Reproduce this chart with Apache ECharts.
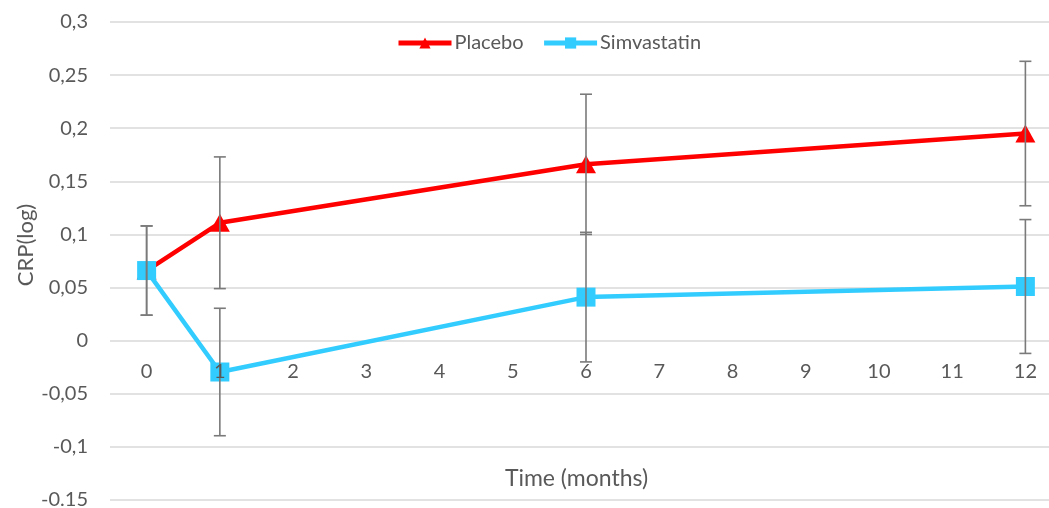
<!DOCTYPE html>
<html>
<head>
<meta charset="utf-8">
<script src="https://cdn.jsdelivr.net/npm/echarts@6/dist/echarts.min.js"></script>
<style>
  html, body { margin: 0; padding: 0; background: #ffffff; }
  #chart { width: 1049px; height: 508px; }
</style>
</head>
<body>
<div id="chart"></div>
<script>
// Time axis categories (months)
const monthLabels = ['0', '1', '2', '3', '4', '5', '6', '7', '8', '9', '10', '11', '12'];
// Measurement months
const months = [0, 1, 6, 12];
// Mean CRP (log) and error half-widths per group
const placeboMean = [0.066, 0.111, 0.166, 0.195];
const placeboErr = [0.042, 0.062, 0.066, 0.068];
const simvaMean = [0.066, -0.0295, 0.041, 0.051];
const simvaErr = [0.042, 0.060, 0.061, 0.063];
// Y tick labels, bottom to top
const yTickLabels = ['-0.15', '-0,1', '-0,05', '0', '0,05', '0,1', '0,15', '0,2', '0,25', '0,3'];

const FONT = 'Lato';
const TEXT = '#595959';
const GRID_LINE = '#d9d9d9';

// Plot box
const PLOT_TOP = 22;
const PLOT_HEIGHT = 478;
const Y_MIN = -0.15;
const Y_MAX = 0.3;
// Distance of the y = 0 line above the plot bottom, so the month axis sits on zero
const ZERO_OFFSET = PLOT_HEIGHT * (0 - Y_MIN) / (Y_MAX - Y_MIN);

function points(mean) {
  return months.map((m, i) => [m, mean[i]]);
}
function bars(mean, err) {
  return months.map((m, i) => [m, mean[i] - err[i], mean[i] + err[i]]);
}

function errorBarItem(params, api) {
  const x = api.value(0);
  const lo = api.coord([x, api.value(1)]);
  const hi = api.coord([x, api.value(2)]);
  const cap = 6;
  const style = { stroke: '#7a7a7a', lineWidth: 1.6, fill: null };
  return {
    type: 'group',
    children: [
      { type: 'line', shape: { x1: lo[0], y1: lo[1], x2: hi[0], y2: hi[1] }, style },
      { type: 'line', shape: { x1: lo[0] - cap, y1: lo[1], x2: lo[0] + cap, y2: lo[1] }, style },
      { type: 'line', shape: { x1: hi[0] - cap, y1: hi[1], x2: hi[0] + cap, y2: hi[1] }, style }
    ]
  };
}

const chart = echarts.init(document.getElementById('chart'), null, { renderer: 'canvas' });
chart.setOption({
  animation: false,
  backgroundColor: '#ffffff',
  textStyle: { fontFamily: FONT, color: TEXT },
  legend: {
    top: 33,
    left: 396,
    padding: 0,
    itemWidth: 53,
    itemHeight: 14,
    itemGap: 18,
    lineStyle: { width: 5 },
    textStyle: { fontFamily: FONT, fontSize: 20, color: TEXT, padding: [0, 0, 0, -2] },
    data: ['Placebo', 'Simvastatin']
  },
  grid: { left: 110, top: PLOT_TOP, width: 952, height: PLOT_HEIGHT, outerBoundsMode: 'none' },
  xAxis: {
    type: 'category',
    position: 'bottom',
    offset: -ZERO_OFFSET,
    data: monthLabels,
    boundaryGap: true,
    z: 10,
    axisLine: { show: false, onZero: false },
    axisTick: { show: false },
    axisLabel: { fontFamily: FONT, fontSize: 20, color: TEXT, margin: 21 },
    splitLine: { show: false },
    name: 'Time (months)',
    nameLocation: 'middle',
    nameGap: 126,
    nameMoveOverlap: false,
    nameTextStyle: { fontFamily: FONT, fontSize: 23, color: TEXT, padding: [0, 19, 0, 0] }
  },
  yAxis: {
    type: 'value',
    min: Y_MIN,
    max: Y_MAX,
    interval: 0.05,
    axisLine: { show: false },
    axisTick: { show: false },
    axisLabel: {
      fontFamily: FONT, fontSize: 20, color: TEXT, margin: 22,
      formatter: (v) => yTickLabels[Math.round((v - Y_MIN) / 0.05)]
    },
    splitLine: { show: true, lineStyle: { color: GRID_LINE, width: 1.5 } },
    name: 'CRP(log)',
    nameLocation: 'middle',
    nameGap: 73,
    nameMoveOverlap: false,
    nameTextStyle: { fontFamily: FONT, fontSize: 22, color: TEXT, padding: [0, 0, 0, 32] }
  },
  series: [
    {
      name: 'Placebo',
      type: 'line',
      data: points(placeboMean),
      color: '#ff0000',
      lineStyle: { width: 4.5, color: '#ff0000' },
      symbol: 'triangle',
      symbolSize: [20, 18],
      itemStyle: { color: '#ff0000' },
      z: 3
    },
    {
      name: 'Simvastatin',
      type: 'line',
      data: points(simvaMean),
      color: '#33ccff',
      lineStyle: { width: 4.5, color: '#33ccff' },
      symbol: 'rect',
      symbolSize: 19,
      itemStyle: { color: '#33ccff' },
      z: 4
    },
    {
      name: 'Placebo',
      type: 'custom',
      renderItem: errorBarItem,
      data: bars(placeboMean, placeboErr),
      encode: { x: 0, y: [1, 2] },
      z: 6,
      silent: true
    },
    {
      name: 'Simvastatin',
      type: 'custom',
      renderItem: errorBarItem,
      data: bars(simvaMean, simvaErr),
      encode: { x: 0, y: [1, 2] },
      z: 6,
      silent: true
    }
  ]
});
</script>
</body>
</html>
